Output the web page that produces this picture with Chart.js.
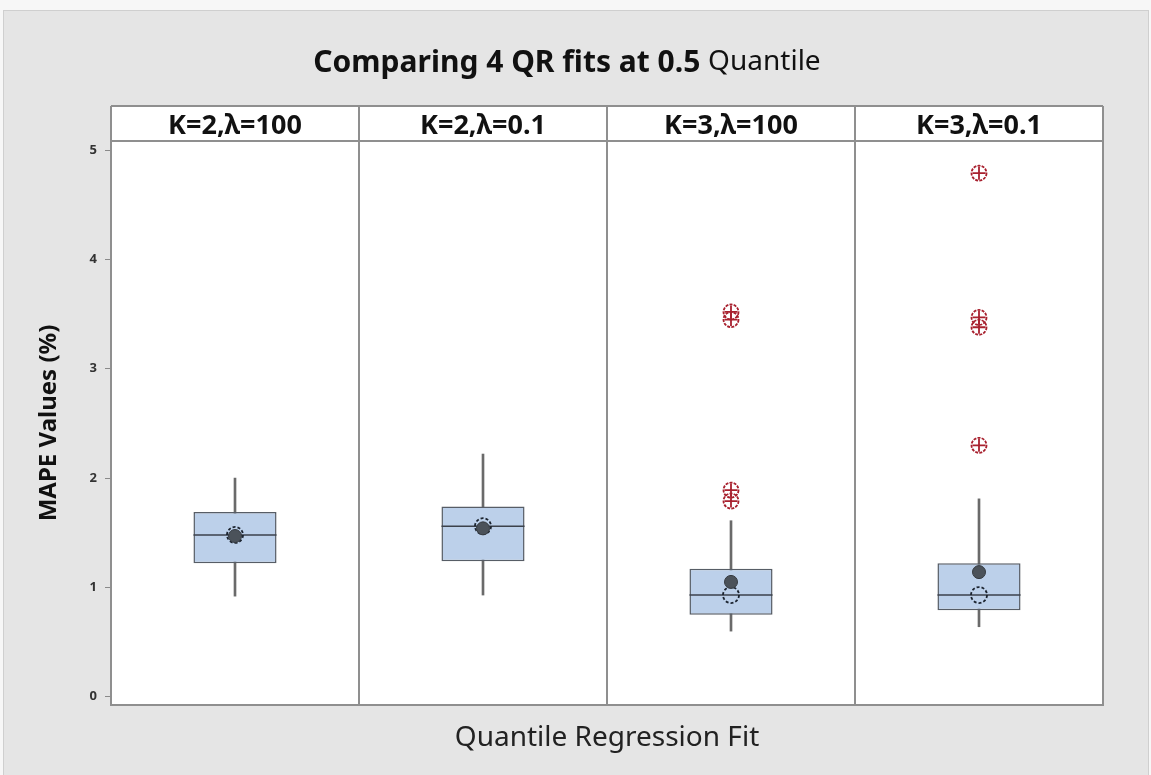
<!DOCTYPE html>
<html>
<head>
<meta charset="utf-8">
<script src="https://cdn.jsdelivr.net/npm/chart.js@4.4.1/dist/chart.umd.min.js"></script>
<style>
  html, body { margin: 0; padding: 0; background: #fff; }
  #wrap { width: 1151px; height: 775px; }
</style>
</head>
<body>
<div id="wrap"><canvas id="qrChart" width="1151" height="775"></canvas></div>
<script>
// MAPE (%) box plot summaries for the four quantile regression fits
const fits = ['K=2,λ=100', 'K=2,λ=0.1', 'K=3,λ=100', 'K=3,λ=0.1'];
const whiskerLow  = [0.92, 0.93, 0.60, 0.64];
const q1          = [1.22, 1.24, 0.75, 0.79];
const medians     = [1.48, 1.56, 0.93, 0.93];
const q3          = [1.69, 1.74, 1.17, 1.22];
const whiskerHigh = [2.00, 2.22, 1.61, 1.81];
const means       = [1.47, 1.54, 1.05, 1.14];
const outliers    = [[], [], [3.52, 3.45, 1.89, 1.79], [4.79, 3.47, 3.38, 2.30]];
const yTicks = [0, 1, 2, 3, 4, 5];

const titleMain = 'Comparing 4 QR fits at 0.5';
const titleTail = 'Quantile';

const FONT = '"Noto Sans", "Open Sans", sans-serif';
Chart.defaults.font.family = FONT;

const frameGray = '#8f8f8f';
const boxFill = '#bcd0ea';
const boxEdge = '#575d66';
const outlierRed = '#a8202e';

const pointsAt = vals => fits.map((f, i) => ({ x: f, y: vals[i] }));
const outlierPoints = [];
outliers.forEach((list, i) => list.forEach(v => outlierPoints.push({ x: fits[i], y: v })));

// page background, header strip and the two-font title
const backdrop = {
  id: 'backdrop',
  beforeDraw(chart) {
    const { ctx, chartArea: a } = chart;
    ctx.save();
    ctx.fillStyle = '#f7f7f7';
    ctx.fillRect(0, 0, chart.width, chart.height);
    ctx.fillStyle = '#e5e5e5';
    ctx.fillRect(3, 10, chart.width - 5, chart.height - 10);
    ctx.strokeStyle = '#cfcfcf';
    ctx.lineWidth = 1;
    ctx.strokeRect(3.5, 10.5, chart.width - 6, chart.height - 10);

    ctx.fillStyle = '#fff';
    ctx.fillRect(a.left, a.top - 35, a.right - a.left, 35);
    ctx.fillRect(a.left, a.top, a.right - a.left, a.bottom - a.top);
    ctx.strokeStyle = frameGray;
    ctx.lineWidth = 2;
    ctx.beginPath();
    ctx.moveTo(a.left, a.top - 35);
    ctx.lineTo(a.right, a.top - 35);
    ctx.stroke();

    ctx.fillStyle = '#111';
    ctx.textBaseline = 'middle';
    const bold = 'bold 30px ' + FONT;
    const plain = '28px ' + FONT;
    ctx.font = bold;
    const w1 = ctx.measureText(titleMain + ' ').width;
    ctx.font = plain;
    const w2 = ctx.measureText(titleTail).width;
    const x = 567 - (w1 + w2) / 2;
    ctx.font = bold;
    ctx.fillText(titleMain, x, 63);
    ctx.font = plain;
    ctx.fillText(titleTail, x + w1, 62);
    ctx.restore();
  }
};

// median line across each box, drawn right after the boxes
const medianLines = {
  id: 'medianLines',
  afterDatasetDraw(chart, args) {
    if (chart.data.datasets[args.index].id !== 'box') return;
    const { ctx } = chart;
    const y = chart.scales.y;
    ctx.save();
    ctx.strokeStyle = '#3b414b';
    ctx.lineWidth = 1.5;
    args.meta.data.forEach((bar, i) => {
      const py = y.getPixelForValue(medians[i]);
      ctx.beginPath();
      ctx.moveTo(bar.x - bar.width / 2, py);
      ctx.lineTo(bar.x + bar.width / 2, py);
      ctx.stroke();
    });
    ctx.restore();
  }
};

// dashed outlines for the open symbols
const dashedPoints = {
  id: 'dashedPoints',
  beforeDatasetDraw(chart, args) {
    const dash = chart.data.datasets[args.index].dash;
    if (!dash) return;
    chart.ctx.save();
    chart.ctx.setLineDash(dash);
  },
  afterDatasetDraw(chart, args) {
    if (chart.data.datasets[args.index].dash) chart.ctx.restore();
  }
};

new Chart(document.getElementById('qrChart'), {
  type: 'bar',
  data: {
    labels: fits,
    datasets: [
      {
        id: 'whisker',
        data: fits.map((f, i) => [whiskerLow[i], whiskerHigh[i]]),
        backgroundColor: '#6a6a6a',
        barThickness: 2,
        grouped: false,
        order: 6
      },
      {
        id: 'box',
        data: fits.map((f, i) => [q1[i], q3[i]]),
        backgroundColor: boxFill,
        borderColor: boxEdge,
        borderWidth: 1.5,
        borderSkipped: false,
        barPercentage: 1,
        categoryPercentage: 0.335,
        grouped: false,
        order: 5
      },
      {
        id: 'median',
        type: 'line',
        data: pointsAt(medians),
        showLine: false,
        pointStyle: 'circle',
        pointRadius: 8,
        pointBackgroundColor: 'rgba(0,0,0,0)',
        pointBorderColor: '#1c2430',
        pointBorderWidth: 1.8,
        dash: [3, 2],
        order: 3
      },
      {
        id: 'mean',
        type: 'line',
        data: pointsAt(means),
        showLine: false,
        pointStyle: 'circle',
        pointRadius: 6.5,
        pointBackgroundColor: '#4b525a',
        pointBorderColor: '#353a40',
        pointBorderWidth: 1,
        order: 2
      },
      {
        id: 'outlierRing',
        type: 'line',
        data: outlierPoints,
        showLine: false,
        pointStyle: 'circle',
        pointRadius: 7.5,
        pointBackgroundColor: 'rgba(0,0,0,0)',
        pointBorderColor: outlierRed,
        pointBorderWidth: 1.8,
        dash: [3, 1.2],
        order: 1
      },
      {
        id: 'outlierCross',
        type: 'line',
        data: outlierPoints,
        showLine: false,
        pointStyle: 'cross',
        pointRadius: 6.5,
        pointBorderColor: outlierRed,
        pointBorderWidth: 1.8,
        order: 0
      }
    ]
  },
  options: {
    responsive: false,
    animation: false,
    devicePixelRatio: 1,
    layout: { padding: { top: 106, right: 48, bottom: 0, left: 0 } },
    plugins: {
      legend: { display: false },
      tooltip: { enabled: false },
      title: { display: false }
    },
    scales: {
      x: {
        position: 'top',
        offset: true,
        afterFit: s => { s.height = 35; },
        grid: { offset: true, color: frameGray, lineWidth: 2, tickLength: 35 },
        border: { display: true, color: frameGray, width: 2 },
        ticks: {
          padding: -37,
          color: '#111',
          autoSkip: false,
          maxRotation: 0,
          font: { size: 27, weight: 'bold' }
        }
      },
      xTitle: {
        type: 'category',
        labels: fits,
        position: 'bottom',
        offset: true,
        afterFit: s => { s.height = 70; },
        grid: { display: false },
        border: { display: true, color: frameGray, width: 2 },
        ticks: { display: false },
        title: {
          display: true,
          text: 'Quantile Regression Fit',
          color: '#222',
          font: { size: 28 },
          padding: { top: 0, bottom: 20 }
        }
      },
      y: {
        min: -0.076,
        max: 5.084,
        afterBuildTicks: s => { s.ticks = yTicks.map(v => ({ value: v })); },
        afterFit: s => { s.width = 111; },
        grid: { drawOnChartArea: false, tickLength: 6, color: '#8a8a8a', lineWidth: 1 },
        border: { color: frameGray, width: 2 },
        ticks: { padding: 8, color: '#333', font: { size: 13, weight: 'bold' } },
        title: {
          display: true,
          text: 'MAPE Values (%)',
          color: '#111',
          font: { size: 24, weight: 'bold' },
          padding: { top: 35, bottom: 0 }
        }
      }
    }
  },
  plugins: [backdrop, medianLines, dashedPoints]
});
</script>
</body>
</html>
